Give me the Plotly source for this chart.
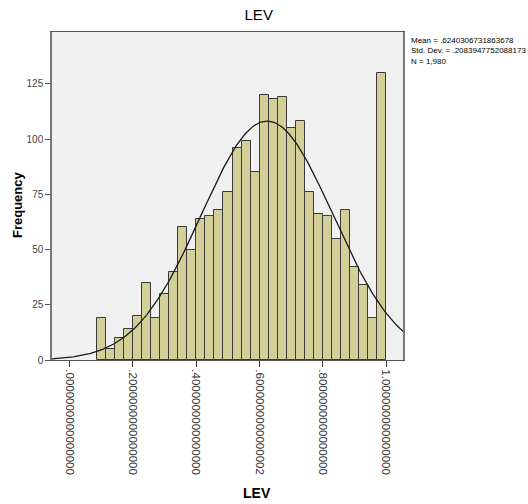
import numpy as np
import plotly.graph_objects as go

# Histogram data
counts = [19, 5, 10, 14, 20, 35, 19, 30, 40, 60, 50, 64, 65, 68, 76, 96, 99,
          85, 120, 118, 119, 105, 108, 76, 66, 65, 55, 68, 42, 34, 19, 130]
bin_start = 0.0866
bin_end = 1.0
mean_val = 0.6240306731863678
sd_val = 0.2083947752088173
n_val = 1980
x_ticks = [0.0, 0.2, 0.4, 0.6, 0.8, 1.0]
x_ticktext = [".0000000000000000", ".2000000000000000", ".4000000000000000",
              ".6000000000000002", ".8000000000000000", "1.000000000000000"]
y_ticks = [0, 25, 50, 75, 100, 125]

nb = len(counts)
w = (bin_end - bin_start) / nb
centers = [bin_start + w * (i + 0.5) for i in range(nb)]

xr = [-0.0556, 1.0534]
xs = np.linspace(xr[0], xr[1], 300)
ys = n_val * w / (sd_val * np.sqrt(2 * np.pi)) * np.exp(-0.5 * ((xs - mean_val) / sd_val) ** 2)

fig = go.Figure()
fig.add_trace(go.Bar(x=centers, y=counts, width=w,
                     marker=dict(color="#d4cf98", line=dict(color="#3a3a3a", width=1)),
                     hoverinfo="skip"))
fig.add_trace(go.Scatter(x=xs, y=ys, mode="lines",
                         line=dict(color="#1a1a1a", width=1.3), hoverinfo="skip"))

font = "Liberation Sans, Arial, sans-serif"
fig.update_layout(
    width=528, height=504,
    margin=dict(l=52, r=125, t=32, b=144),
    paper_bgcolor="white", plot_bgcolor="#f0f0f0",
    showlegend=False, bargap=0,
    font=dict(family=font, color="#000"),
    title=dict(text="LEV", x=0.49, xanchor="center", y=0.97, yanchor="middle",
               font=dict(size=15, family=font, color="#000")),
    xaxis=dict(range=xr, tickvals=x_ticks, ticktext=x_ticktext, tickangle=90,
               ticks="outside", ticklen=6, tickcolor="#333", automargin=False,
               tickfont=dict(size=11.5, color="#333", family=font),
               showgrid=False, zeroline=False,
               showline=True, linecolor="#555", linewidth=1, mirror=True),
    yaxis=dict(range=[0, 148.5], tickvals=y_ticks, ticks="outside", ticklen=5,
               tickcolor="#555", automargin=False,
               tickfont=dict(size=10, color="#444", family=font),
               showgrid=False, zeroline=False,
               showline=True, linecolor="#777", linewidth=1.5, mirror=True),
)

# Axis titles
fig.add_annotation(text="<b>LEV</b>", xref="paper", yref="paper",
                   x=(257 - 52) / 351, y=-(493 - 360) / 328, xanchor="center", yanchor="middle",
                   showarrow=False, font=dict(size=14, family=font, color="#000"))
fig.add_annotation(text="<b>Frequency</b>", xref="paper", yref="paper", textangle=-90,
                   x=-(52 - 17) / 351, y=(360 - 205) / 328, xanchor="center", yanchor="middle",
                   showarrow=False, font=dict(size=13, family=font, color="#000"))

legend_text = "Mean = .6240306731863678<br>Std. Dev. = .2083947752088173<br>N = 1,980"
fig.add_annotation(text=legend_text, xref="paper", yref="paper", x=1.018, xanchor="left",
                   y=1 - 2 / 328, yanchor="top", showarrow=False, align="left",
                   font=dict(size=8, color="#000", family=font))

fig.write_html("out.html")
